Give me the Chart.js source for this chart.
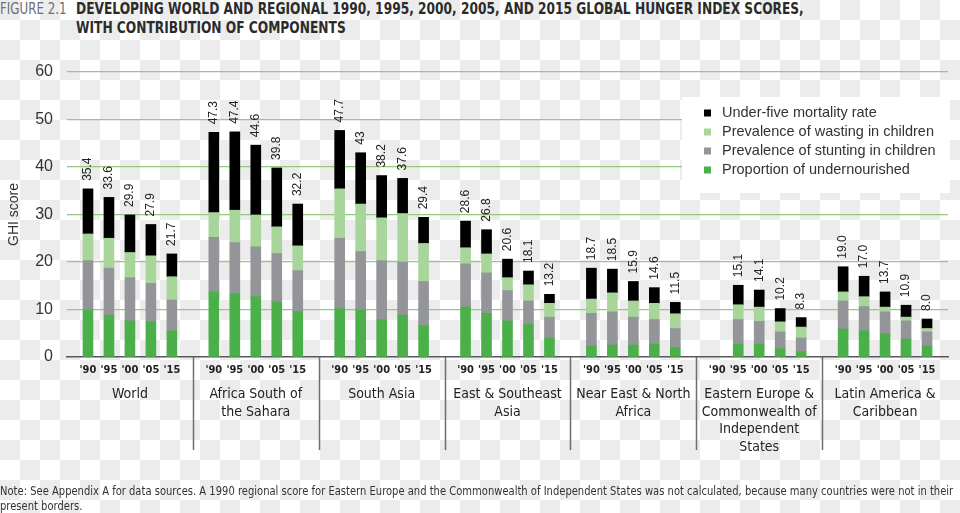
<!DOCTYPE html>
<html>
<head>
<meta charset="utf-8">
<script src="https://cdn.jsdelivr.net/npm/chart.js@4.4.1/dist/chart.umd.min.js"></script>
<style>
  html, body { margin: 0; padding: 0; }
  body {
    width: 960px; height: 513px; position: relative; overflow: hidden;
    background-color: #fff;
    background-image: conic-gradient(#fff 0 25%, #ececec 0 50%, #fff 0 75%, #ececec 0);
    background-size: 40px 40px;
    font-family: 'Liberation Sans Narrow', 'DejaVu Sans Condensed', sans-serif;
  }
  #chart { position: absolute; left: 0; top: 0; }
  .fig, .head, .note { position: absolute; white-space: nowrap; transform-origin: 0 0; }
  .fig { left: 0; top: 0; font-size: 15.5px; line-height: 19px; color: #6d6e71; transform: scaleX(0.85); }
  .head { left: 76px; top: 0; font-size: 15.5px; line-height: 19px; font-weight: bold; color: #2b2b2b; transform: scaleX(0.877); }
  .note { left: 0; top: 484px; font-size: 11.5px; line-height: 15px; color: #333; transform: scaleX(0.965); }
</style>
</head>
<body>
<div class="fig">FIGURE 2.1</div>
<div class="head">DEVELOPING WORLD AND REGIONAL 1990, 1995, 2000, 2005, AND 2015 GLOBAL HUNGER INDEX SCORES,<br>WITH CONTRIBUTION OF COMPONENTS</div>
<canvas id="chart" width="960" height="513"></canvas>
<div class="note">Note: See Appendix A for data sources. A 1990 regional score for Eastern Europe and the Commonwealth of Independent States was not calculated, because many countries were not in their<br>present borders.</div>
<script>
var narrow = "'Liberation Sans Narrow', 'DejaVu Sans Condensed', sans-serif";
var sans = "'Liberation Sans', Arial, sans-serif";

var years = ["'90", "'95", "'00", "'05", "'15"];
var regions = [
    ["World"],
    ["Africa South of", "the Sahara"],
    ["South Asia"],
    ["East & Southeast", "Asia"],
    ["Near East & North", "Africa"],
    ["Eastern Europe &", "Commonwealth of", "Independent", "States"],
    ["Latin America &", "Caribbean"]
];

// five values per region, in the order of years
var undernourished = [9.9, 8.8, 7.6, 7.4, 5.5,  13.7, 13.3, 12.7, 11.6, 9.6,  10.2, 9.9, 7.9, 8.8, 6.6,
    10.5, 9.2, 7.6, 6.9, 4.0,  2.3, 2.5, 2.5, 2.7, 2.0,  null, 2.7, 2.7, 1.8, 1.1,  5.9, 5.5, 4.9, 3.8, 2.3];
var stunting = [10.4, 9.9, 9.1, 8.1, 6.5,  11.5, 10.8, 10.5, 10.2, 8.6,  14.8, 12.3, 12.4, 11.2, 9.3,
    9.1, 8.5, 6.4, 4.9, 4.4,  6.9, 7.0, 5.9, 5.2, 4.0,  null, 5.2, 4.8, 3.5, 2.9,  5.9, 5.1, 4.6, 3.8, 3.0];
var wasting = [5.6, 6.3, 5.3, 5.8, 4.9,  5.2, 6.8, 6.7, 5.6, 5.2,  10.4, 10.0, 9.0, 10.2, 8.0,
    3.4, 4.0, 2.7, 3.4, 2.9,  3.0, 4.0, 3.4, 3.4, 3.1,  null, 3.1, 3.0, 2.1, 2.3,  1.9, 2.1, 1.0, 0.8, 0.7];
var mortality = [9.5, 8.6, 7.9, 6.6, 4.8,  16.9, 16.5, 14.7, 12.4, 8.8,  12.3, 10.8, 8.9, 7.4, 5.5,
    5.6, 5.1, 3.9, 2.9, 1.9,  6.5, 5.0, 4.1, 3.3, 2.4,  null, 4.1, 3.6, 2.8, 2.0,  5.3, 4.3, 3.2, 2.5, 2.0];
var scoreLabels = ["35.4", "33.6", "29.9", "27.9", "21.7",  "47.3", "47.4", "44.6", "39.8", "32.2",
    "47.7", "43", "38.2", "37.6", "29.4",  "28.6", "26.8", "20.6", "18.1", "13.2",
    "18.7", "18.5", "15.9", "14.6", "11.5",  "", "15.1", "14.1", "10.2", "8.3",
    "19.0", "17.0", "13.7", "10.9", "8.0"];

// spread the 35 values over slots with an empty slot between regions
function spread(arr, blank) {
    var out = [blank];
    for (var g = 0; g < regions.length; g++) {
        for (var i = 0; i < years.length; i++) out.push(arr[g * years.length + i]);
        out.push(blank);
    }
    return out;
}
var xLabels = spread(regions.map(function () { return years; }).reduce(function (a, b) { return a.concat(b); }, []), '');
var slotScores = spread(scoreLabels, '');

var scoreLabelPlugin = {
    id: 'scoreLabels',
    afterDatasetsDraw: function (chart) {
        var ctx = chart.ctx;
        var top = chart.getDatasetMeta(chart.data.datasets.length - 1);
        ctx.save();
        ctx.font = '12px ' + sans;
        ctx.fillStyle = '#222';
        ctx.textAlign = 'left';
        ctx.textBaseline = 'middle';
        slotScores.forEach(function (t, i) {
            if (!t) return;
            var bar = top.data[i];
            ctx.save();
            ctx.translate(bar.x, bar.y - 8);
            ctx.rotate(-Math.PI / 2);
            ctx.fillText(t, 0, 0);
            ctx.restore();
        });
        ctx.restore();
    }
};

var separatorPlugin = {
    id: 'separators',
    afterDraw: function (chart) {
        var ctx = chart.ctx, x = chart.scales.x, area = chart.chartArea;
        ctx.save();
        ctx.strokeStyle = '#6d6e71';
        ctx.lineWidth = 1.5;
        for (var g = 1; g < regions.length; g++) {
            var px = Math.round(x.getPixelForTick(g * (years.length + 1))) + 0.5;
            ctx.beginPath();
            ctx.moveTo(px, area.bottom);
            ctx.lineTo(px, area.bottom + 93);
            ctx.stroke();
        }
        ctx.restore();
    }
};

var boxLegendPlugin = {
    id: 'boxLegend',
    afterDraw: function (chart) {
        var ctx = chart.ctx, area = chart.chartArea;
        var bx = area.right - 266, by = area.top + 25;
        ctx.save();
        ctx.fillStyle = '#fff';
        ctx.fillRect(bx, by, 268, 96);
        ctx.font = '14.5px ' + sans;
        ctx.textBaseline = 'middle';
        ctx.textAlign = 'left';
        var sets = chart.data.datasets.slice().reverse();
        sets.forEach(function (ds, k) {
            var ty = by + 16 + k * 19;
            ctx.fillStyle = ds.backgroundColor;
            ctx.fillRect(bx + 22, ty - 3.5, 7, 7);
            ctx.fillStyle = '#333';
            ctx.fillText(ds.label, bx + 40, ty);
        });
        ctx.restore();
    }
};

var ctx = document.getElementById('chart');
var myChart = new Chart(ctx, {
    type: 'bar',
    data: {
        labels: xLabels,
        datasets: [
            { label: 'Proportion of undernourished', data: spread(undernourished, null), backgroundColor: '#4cb04a' },
            { label: 'Prevalence of stunting in children', data: spread(stunting, null), backgroundColor: '#949599' },
            { label: 'Prevalence of wasting in children', data: spread(wasting, null), backgroundColor: '#a8d59a' },
            { label: 'Under-five mortality rate', data: spread(mortality, null), backgroundColor: '#000000' }
        ]
    },
    options: {
        responsive: false,
        devicePixelRatio: 1,
        animation: false,
        barThickness: 10,
        layout: { padding: { left: 0, right: 12, top: 72, bottom: 52 } },
        plugins: {
            legend: { display: false },
            tooltip: { enabled: false }
        },
        scales: {
            x: {
                stacked: true,
                offset: false,
                weight: 0,
                grid: { display: false, drawTicks: false },
                border: { display: true, color: '#58595b', width: 1.5 },
                ticks: { autoSkip: false, maxRotation: 0, padding: 7, color: '#222',
                    font: { family: narrow, size: 11, weight: 'bold' } },
                afterFit: function (s) { s.height = 24; }
            },
            x2: {
                type: 'category',
                position: 'bottom',
                labels: regions,
                offset: true,
                weight: 1,
                grid: { display: false, drawTicks: false },
                border: { display: false },
                ticks: { autoSkip: false, maxRotation: 0, padding: 5, color: '#222',
                    font: { family: narrow, size: 14, lineHeight: 1.25 } },
                afterFit: function (s) { s.height = 80; }
            },
            y: {
                stacked: true,
                min: 0,
                max: 60,
                border: { display: false },
                grid: {
                    drawTicks: false,
                    lineWidth: 1.2,
                    color: function (c) { return c.tick && c.tick.value === 0 ? 'rgba(0,0,0,0)' : '#8fcc80'; }
                },
                ticks: { stepSize: 10, padding: 14, color: '#333', font: { family: sans, size: 16 } },
                title: { display: true, text: 'GHI score', color: '#333', padding: { top: 6, bottom: 0 },
                    font: { family: sans, size: 14 } },
                afterFit: function (s) { s.width = 67; }
            }
        }
    },
    plugins: [scoreLabelPlugin, separatorPlugin, boxLegendPlugin]
});
</script>
</body>
</html>
